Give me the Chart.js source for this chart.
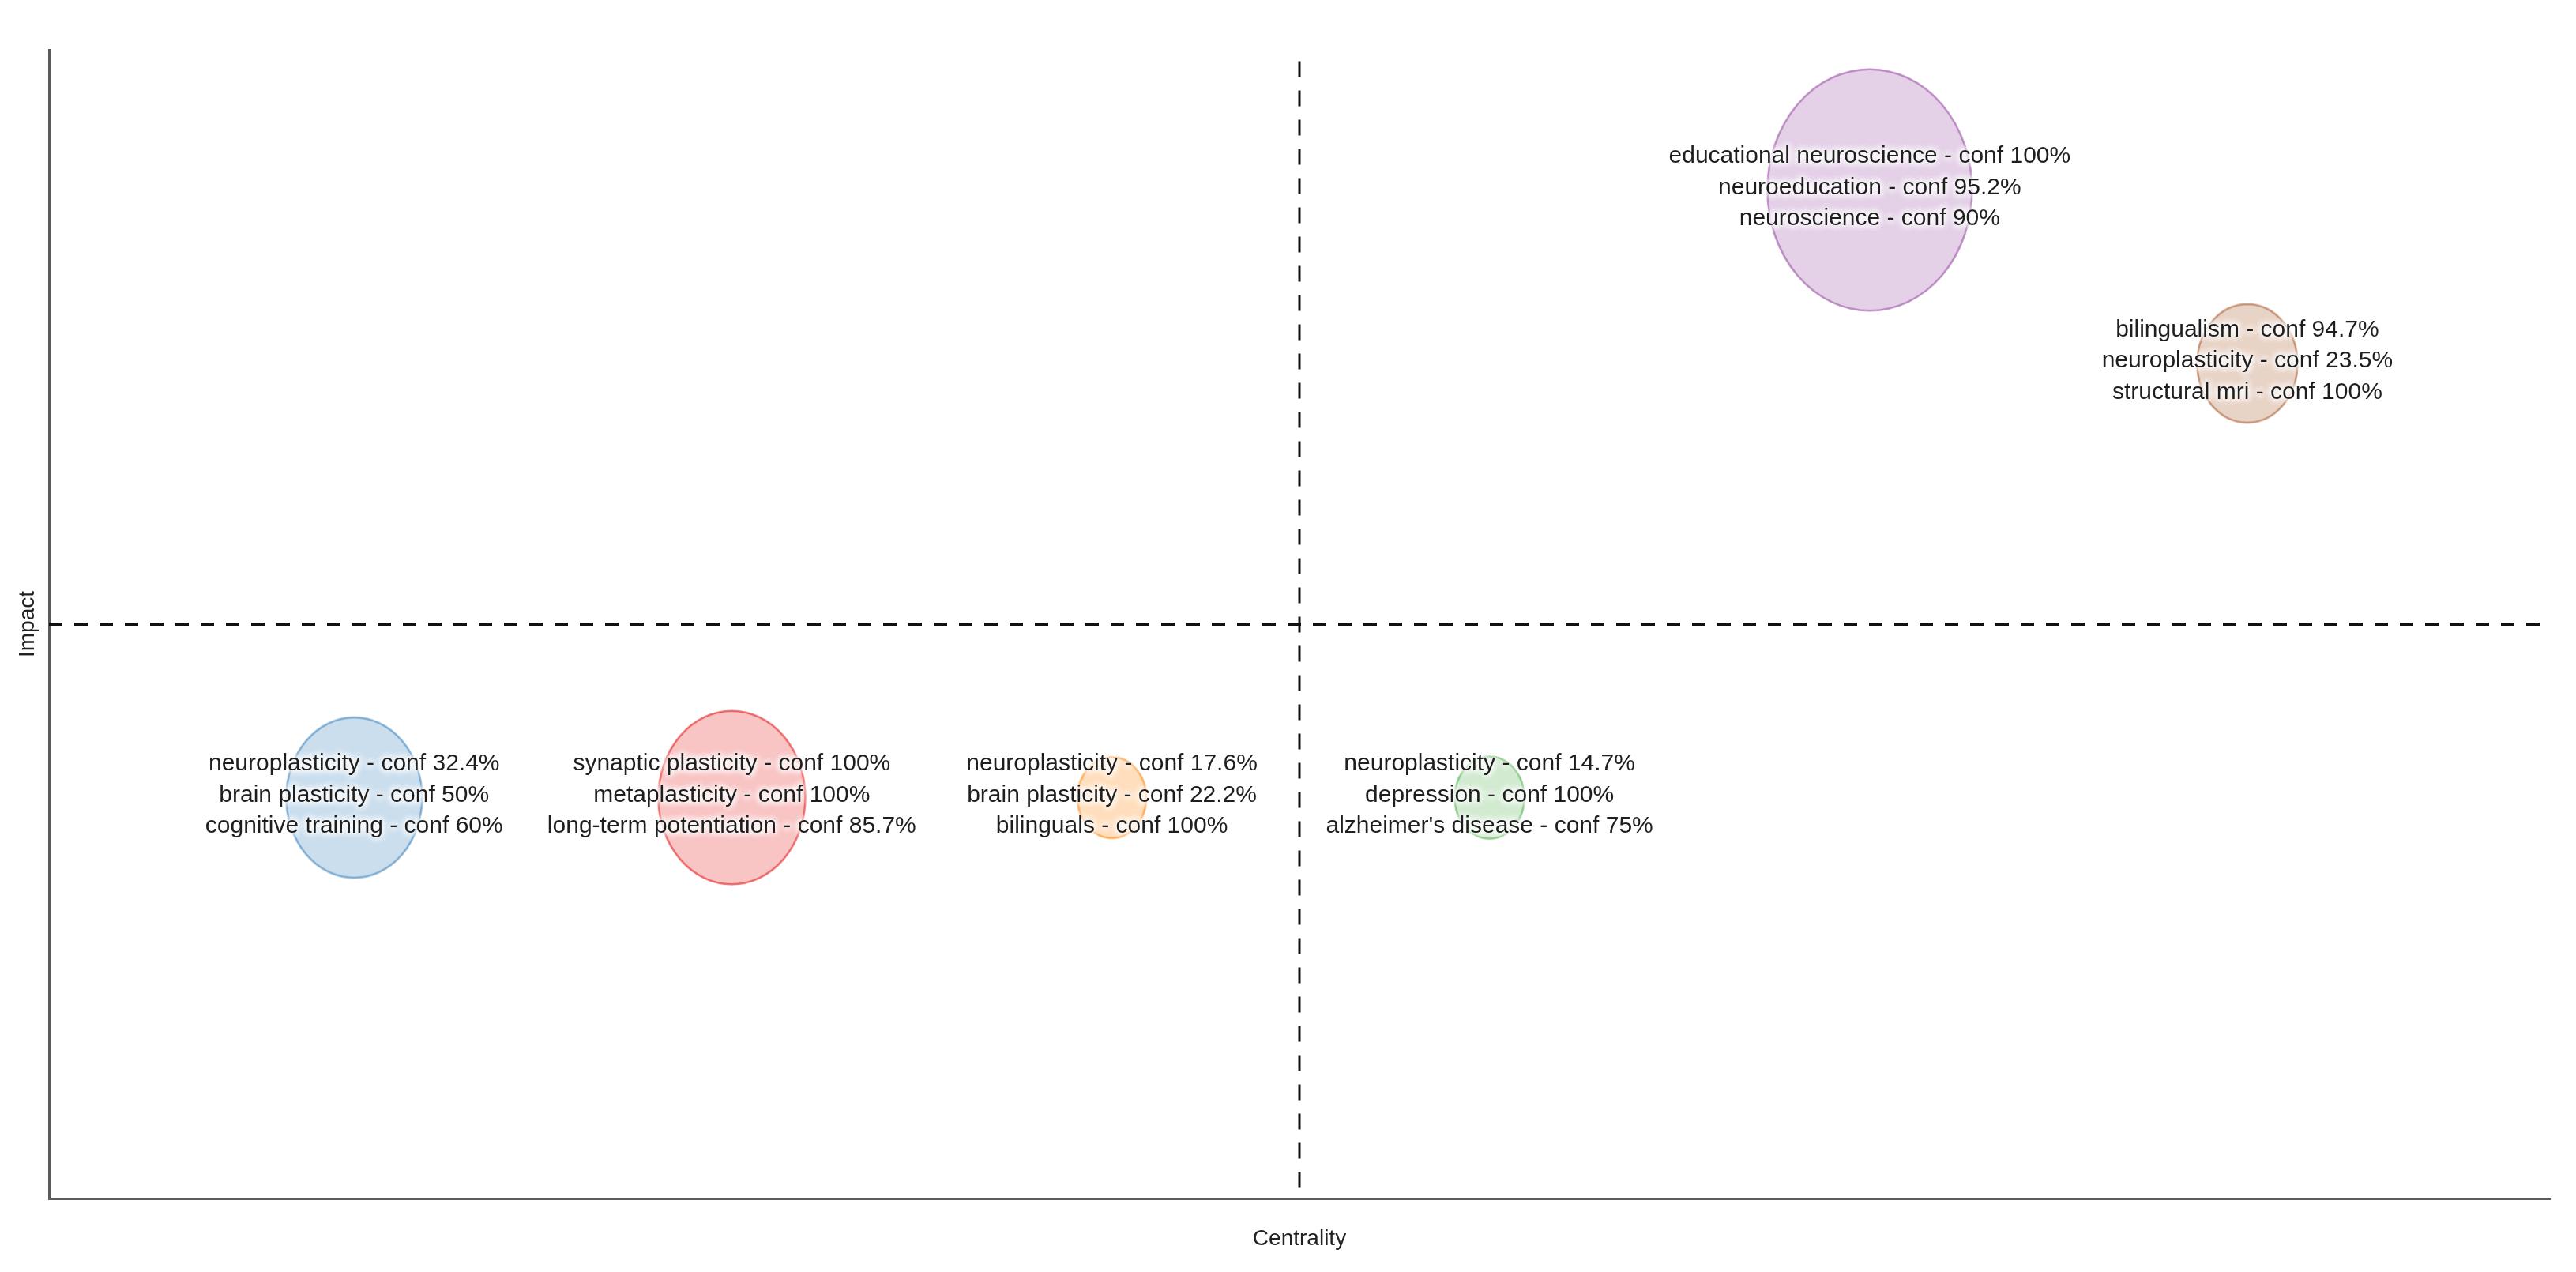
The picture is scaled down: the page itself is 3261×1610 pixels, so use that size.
<!DOCTYPE html>
<html>
<head>
<meta charset="utf-8">
<script src="https://cdn.jsdelivr.net/npm/chart.js@4/dist/chart.umd.min.js"></script>
<style>
  html, body { margin: 0; padding: 0; background: #ffffff; }
  #wrap { width: 3261px; height: 1610px; position: relative; }
</style>
</head>
<body>
<div id="wrap"><canvas id="c"></canvas></div>
<script>
// ---- data ----
const centrality = [12.2, 27.3, 42.5, 57.6, 72.8, 87.9];
const impact = [34.9, 34.9, 34.9, 34.9, 87.8, 72.7];
const bubbleSize = [86, 93, 43.5, 44, 129.5, 63.5];
const clusterLabels = [
  ["neuroplasticity - conf 32.4%", "brain plasticity - conf 50%", "cognitive training - conf 60%"],
  ["synaptic plasticity - conf 100%", "metaplasticity - conf 100%", "long-term potentiation - conf 85.7%"],
  ["neuroplasticity - conf 17.6%", "brain plasticity - conf 22.2%", "bilinguals - conf 100%"],
  ["neuroplasticity - conf 14.7%", "depression - conf 100%", "alzheimer's disease - conf 75%"],
  ["educational neuroscience - conf 100%", "neuroeducation - conf 95.2%", "neuroscience - conf 90%"],
  ["bilingualism - conf 94.7%", "neuroplasticity - conf 23.5%", "structural mri - conf 100%"]
];
const medianCentrality = 50;
const medianImpact = 50;
const xTitle = "Centrality";
const yTitle = "Impact";

// ---- styles ----
const baseColors = [[55,126,184],[228,26,28],[255,127,0],[77,175,74],[152,78,163],[166,86,40]];
const ELLIPSE_STRETCH = 1.18;
const FONT = "'Liberation Sans', Arial, sans-serif";

function ellipseCanvas(rx, rgb) {
  const ry = rx * ELLIPSE_STRETCH;
  const lw = 2.5;
  const cv = document.createElement('canvas');
  cv.width = Math.ceil(2 * rx + lw * 2);
  cv.height = Math.ceil(2 * ry + lw * 2);
  const g = cv.getContext('2d');
  g.beginPath();
  g.ellipse(cv.width / 2, cv.height / 2, rx, ry, 0, 0, Math.PI * 2);
  g.fillStyle = `rgba(${rgb[0]},${rgb[1]},${rgb[2]},0.26)`;
  g.fill();
  g.lineWidth = lw;
  g.strokeStyle = `rgba(${rgb[0]},${rgb[1]},${rgb[2]},0.6)`;
  g.stroke();
  return cv;
}
const ellipseImgs = bubbleSize.map((r, i) => ellipseCanvas(r, baseColors[i]));

const points = centrality.map((x, i) => ({ x: x, y: impact[i], r: bubbleSize[i] }));

const medianLines = {
  id: 'medianLines',
  beforeDatasetsDraw(chart) {
    const { ctx, chartArea, scales } = chart;
    const px = scales.x.getPixelForValue(medianCentrality);
    const py = scales.y.getPixelForValue(medianImpact);
    ctx.save();
    ctx.strokeStyle = '#111';
    // horizontal
    ctx.lineWidth = 4;
    ctx.setLineDash([17, 15]);
    ctx.beginPath();
    ctx.moveTo(chartArea.left, py);
    ctx.lineTo(chartArea.right, py);
    ctx.stroke();
    // vertical
    ctx.lineWidth = 3;
    ctx.setLineDash([20, 17]);
    ctx.beginPath();
    ctx.moveTo(px, scales.y.getPixelForValue(99));
    ctx.lineTo(px, chartArea.bottom);
    ctx.stroke();
    ctx.restore();
  }
};

const bubbleLabels = {
  id: 'bubbleLabels',
  afterDatasetsDraw(chart) {
    const { ctx } = chart;
    const meta = chart.getDatasetMeta(0);
    ctx.save();
    ctx.font = `30px ${FONT}`;
    ctx.textAlign = 'center';
    ctx.textBaseline = 'middle';
    const lh = 39.5;
    meta.data.forEach((el, i) => {
      const lines = clusterLabels[i];
      lines.forEach((t, k) => {
        const y = el.y - 3 + (k - 1) * lh;
        ctx.shadowColor = 'rgba(255,255,255,1)';
        ctx.shadowBlur = 8;
        ctx.fillStyle = '#ffffff';
        for (let p = 0; p < 4; p++) ctx.fillText(t, el.x, y);
        ctx.shadowBlur = 0;
        ctx.shadowColor = 'transparent';
        ctx.fillStyle = '#1e1e1e';
        ctx.fillText(t, el.x, y);
      });
    });
    ctx.restore();
  }
};

new Chart(document.getElementById('c'), {
  type: 'bubble',
  data: {
    datasets: [{
      data: points,
      pointStyle: (c) => ellipseImgs[c.dataIndex],
      backgroundColor: 'rgba(0,0,0,0)',
      borderColor: 'rgba(0,0,0,0)'
    }]
  },
  options: {
    responsive: true,
    maintainAspectRatio: false,
    animation: false,
    layout: { autoPadding: false, padding: { top: 63, right: 33, left: 0, bottom: 0 } },
    plugins: { legend: { display: false }, tooltip: { enabled: false } },
    scales: {
      x: {
        type: 'linear', min: 0, max: 100, position: 'bottom',
        grid: { display: false, drawTicks: false },
        border: { display: true, color: '#5a5a5a', width: 3 },
        ticks: { display: false },
        title: { display: true, text: xTitle, color: '#222', font: { family: FONT, size: 28 }, padding: { top: 0, bottom: 25 } },
        afterFit: (s) => { s.height = 93; }
      },
      y: {
        type: 'linear', min: 0, max: 100, position: 'left',
        grid: { display: false, drawTicks: false },
        border: { display: true, color: '#5a5a5a', width: 3 },
        ticks: { display: false },
        title: { display: true, text: yTitle, color: '#222', font: { family: FONT, size: 28 }, padding: { top: 18, bottom: 0 } },
        afterFit: (s) => { s.width = 62; }
      }
    }
  },
  plugins: [medianLines, bubbleLabels]
});
</script>
</body>
</html>
